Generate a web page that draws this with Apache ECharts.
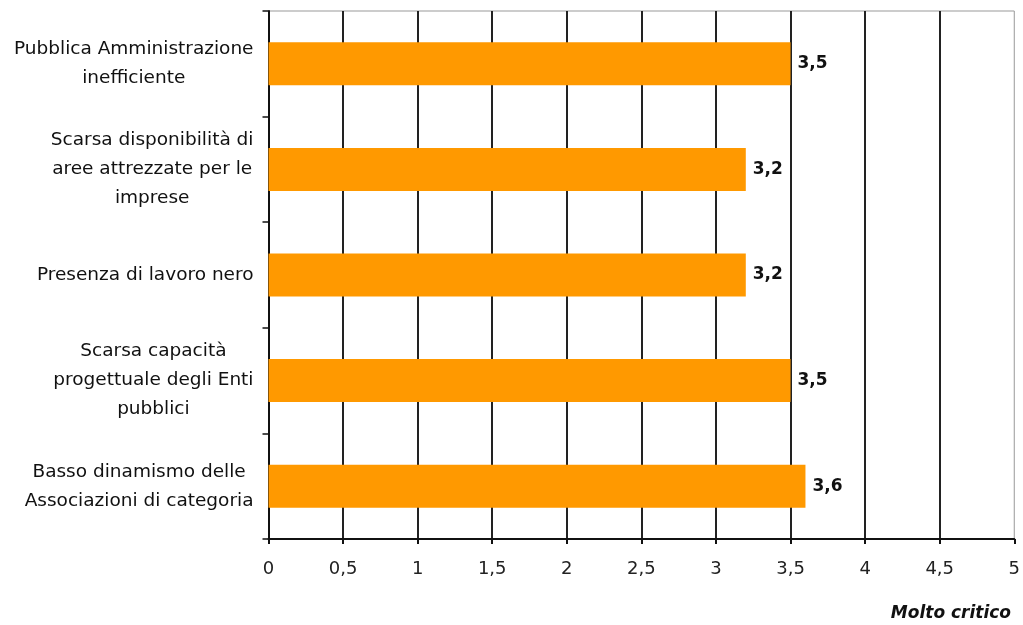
<!DOCTYPE html>
<html>
<head>
<meta charset="utf-8">
<script src="https://cdn.jsdelivr.net/npm/echarts@6/dist/echarts.min.js"></script>
<style>
html,body{margin:0;padding:0;background:#fff;}
#chart{width:1023px;height:625px;}
</style>
</head>
<body>
<div id="chart"></div>
<script>
var categories = [
  'Pubblica Amministrazione\ninefficiente',
  'Scarsa disponibilità di\naree attrezzate per le\nimprese',
  'Presenza di lavoro nero',
  'Scarsa capacità\nprogettuale degli Enti\npubblici',
  'Basso dinamismo delle\nAssociazioni di categoria'
];
var values = [3.5, 3.2, 3.2, 3.5, 3.6];
var xTicks = [0, 0.5, 1, 1.5, 2, 2.5, 3, 3.5, 4, 4.5, 5];
var axisTitle = 'Molto critico';

var FONT = 'DejaVu Sans';
function fmt(v){ return String(v).replace('.', ','); }

var chart = echarts.init(document.getElementById('chart'), null, {renderer:'canvas'});
chart.setOption({
  animation: false,
  backgroundColor: '#fff',
  title: {
    text: axisTitle,
    right: 7, top: 600,
    textStyle: {fontFamily: FONT, fontSize: 17, fontWeight: 'bold', fontStyle: 'italic', color: '#111'}
  },
  grid: {
    left: 268.5, right: 8, top: 11, bottom: 86,
    show: true, borderColor: '#999', borderWidth: 1
  },
  xAxis: {
    type: 'value',
    min: xTicks[0], max: xTicks[xTicks.length-1], interval: 0.5,
    axisLine: {show: true, lineStyle: {color: '#111', width: 2}},
    axisTick: {show: true, length: 5, lineStyle: {color: '#111', width: 2}},
    axisLabel: {
      margin: 21, fontFamily: FONT, fontSize: 18, color: '#222',
      formatter: function(v){ return fmt(v); }
    },
    splitLine: {show: true, showMinLine: false, showMaxLine: false, lineStyle: {color: '#222', width: 2}}
  },
  yAxis: {
    type: 'category',
    data: categories,
    inverse: true,
    axisLine: {show: true, lineStyle: {color: '#111', width: 2}},
    axisTick: {show: true, length: 6, lineStyle: {color: '#111', width: 1.5}},
    splitLine: {show: false},
    axisLabel: {
      margin: 15,
      fontFamily: FONT, fontSize: 18.5, color: '#111', lineHeight: 29,
      formatter: function(v){
        return v.split('\n').map(function(l){ return '{c|' + l + '}'; }).join('\n');
      },
      rich: {c: {align: 'center', fontFamily: FONT, fontSize: 18.5, lineHeight: 29, color: '#111'}}
    }
  },
  series: [{
    type: 'bar',
    data: values,
    barWidth: 43,
    itemStyle: {color: '#FF9900'},
    label: {
      show: true, position: 'right', distance: 7,
      fontFamily: FONT, fontSize: 17, fontWeight: 'bold', color: '#111',
      formatter: function(p){ return fmt(p.value); }
    }
  }]
});
</script>
</body>
</html>
